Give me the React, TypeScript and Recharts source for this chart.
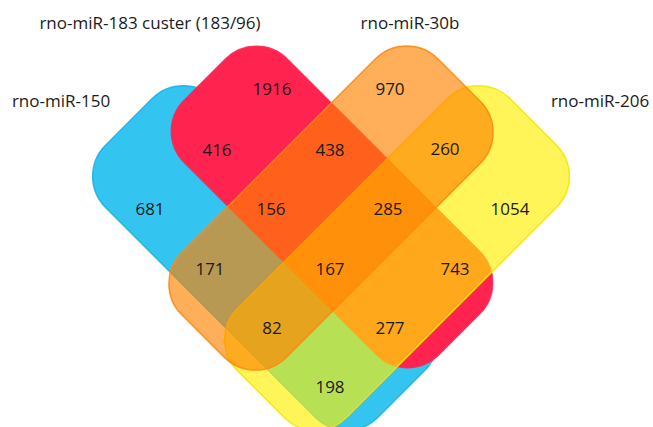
import { Scatter, ScatterChart, XAxis, YAxis } from "recharts";

const WIDTH = 653;
const HEIGHT = 427;

// sets (drawing order: blue, red, yellow, orange)
const setNames = ["rno-miR-150", "rno-miR-183 custer (183/96)", "rno-miR-206", "rno-miR-30b"];
const setColors = ["#1EBEEE", "#FF2450", "#FFF000", "#FF8200"];
const setStroke = ["#1AB4E6", "#FF2450", "#F5E600", "#FF8A10"];
const setOpacity = [0.9, 1, 0.65, 0.65];

// set shape layout (centre, length, width, angle) in plot units
const shapeX = [265, 332, 397, 331];
const shapeY = [258, 207, 258, 208];
const shapeLength = [385, 360, 385, 362];
const shapeWidth = [154, 146, 154, 148];
const shapeAngle = [45, 45, -45, -45];

// set label positions
const setLabelX = [61, 150, 600, 410];
const setLabelY = [100, 22, 100, 22];

// region counts and where they sit
const regionCounts = [1916, 970, 416, 438, 260, 681, 156, 285, 1054, 171, 167, 743, 82, 277, 198];
const regionX = [272, 390, 217, 330, 445, 150, 271, 388, 510, 210, 330, 455, 272, 390, 330];
const regionY = [88, 88, 149, 149, 148, 208, 208, 208, 208, 268, 268, 268, 327, 327, 386];

const k = 1; // plot units -> px

const sets = setNames.map((name, i) => ({
  name,
  x: shapeX[i],
  y: shapeY[i],
  len: shapeLength[i],
  wid: shapeWidth[i],
  angle: shapeAngle[i],
  color: setColors[i],
  stroke: setStroke[i],
  opacity: setOpacity[i],
}));

const regions = regionCounts.map((count, i) => ({ x: regionX[i], y: regionY[i], count }));
const labels = setNames.map((name, i) => ({ x: setLabelX[i], y: setLabelY[i], name }));

const FONT = "'Open Sans', 'Noto Sans', sans-serif";

const renderSet = (props: any) => {
  const { cx, cy, payload } = props;
  const L = payload.len * k;
  const W = payload.wid * k;
  return (
    <rect
      x={cx - L / 2}
      y={cy - W / 2}
      width={L}
      height={W}
      rx={44}
      ry={44}
      fill={payload.color}
      fillOpacity={payload.opacity}
      stroke={payload.stroke}
      strokeOpacity={0.9}
      strokeWidth={1.5}
      transform={`rotate(${payload.angle} ${cx} ${cy})`}
    />
  );
};

const renderCount = (props: any) => {
  const { cx, cy, payload } = props;
  return (
    <text
      x={cx}
      y={cy}
      textAnchor="middle"
      dominantBaseline="central"
      fontSize={17}
      fontFamily={FONT}
      fill="#1a1a1a"
    >
      {payload.count}
    </text>
  );
};

const renderLabel = (props: any) => {
  const { cx, cy, payload } = props;
  return (
    <text
      x={cx}
      y={cy}
      textAnchor="middle"
      dominantBaseline="central"
      fontSize={17}
      fontFamily={FONT}
      fill="#1a1a1a"
    >
      {payload.name}
    </text>
  );
};

export default function App() {
  return (
    <div style={{ width: WIDTH, height: HEIGHT, background: "#fff" }}>
      <style>{"body{margin:0}"}</style>
      <ScatterChart width={WIDTH} height={HEIGHT} margin={{ top: 0, right: 0, bottom: 0, left: 0 }}>
        <XAxis type="number" dataKey="x" domain={[0, WIDTH]} hide />
        <YAxis type="number" dataKey="y" domain={[0, HEIGHT]} reversed hide />
        {sets.map((s) => (
          <Scatter
            key={s.name}
            data={[s]}
            shape={renderSet}
            isAnimationActive={false}
          />
        ))}
        <Scatter data={regions} shape={renderCount} isAnimationActive={false} />
        <Scatter data={labels} shape={renderLabel} isAnimationActive={false} />
      </ScatterChart>
    </div>
  );
}
